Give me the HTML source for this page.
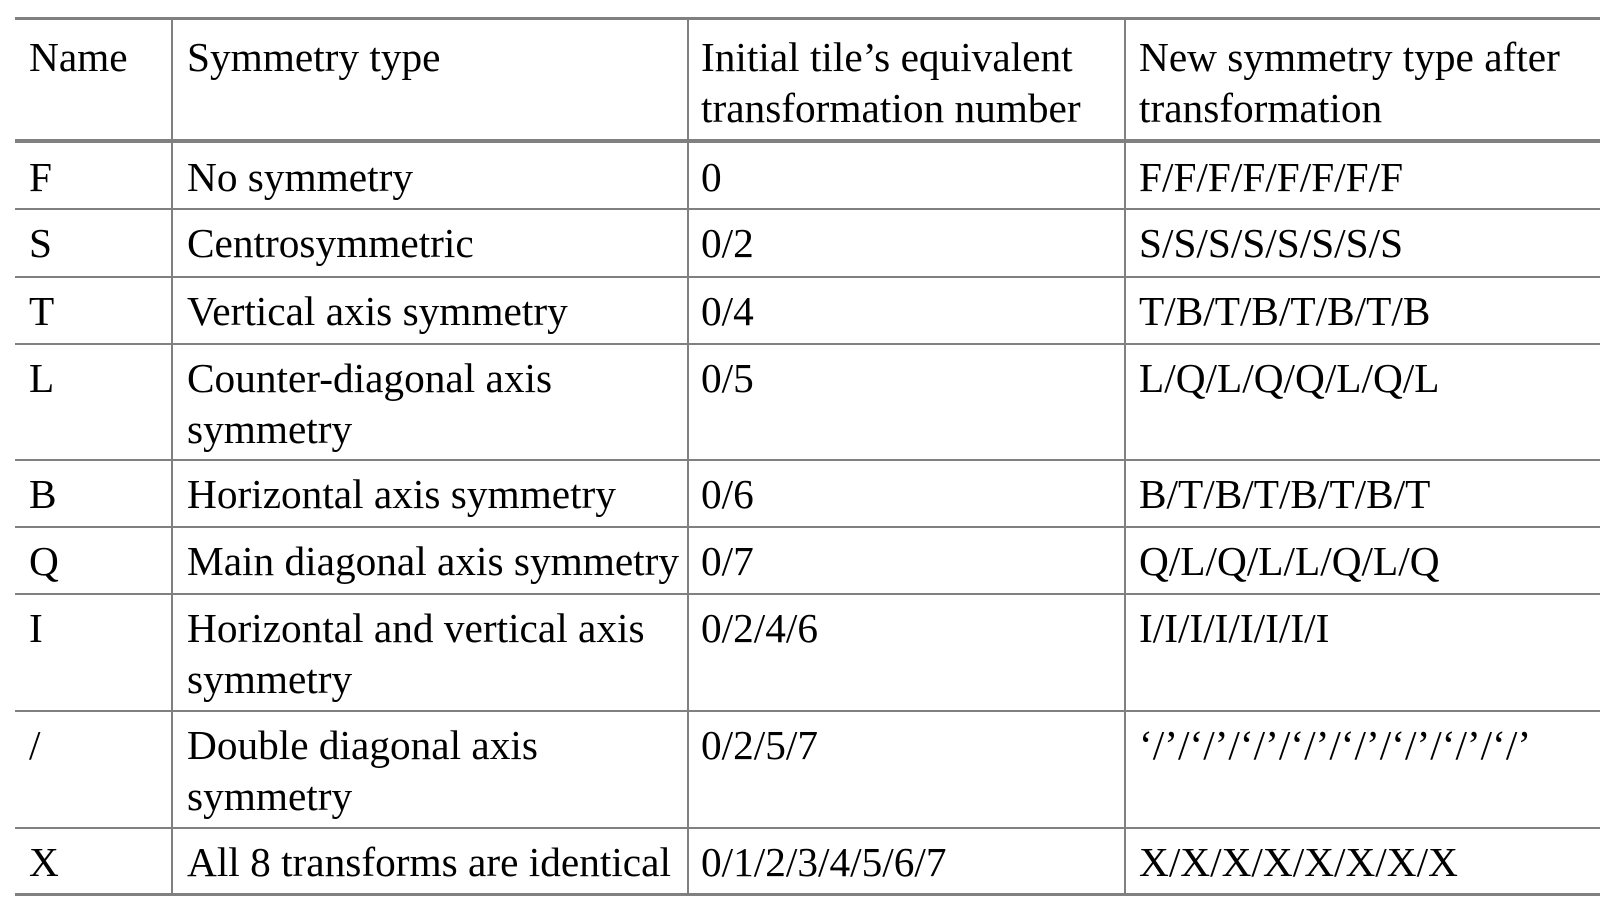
<!DOCTYPE html>
<html><head><meta charset="utf-8"><style>
html,body{margin:0;padding:0;background:#fff;}
body{width:1618px;height:908px;position:relative;overflow:hidden;font-family:"Liberation Serif",serif;font-size:41.3px;color:#000;}
.h{position:absolute;left:15px;width:1585px;background:#808080;}
.v{position:absolute;width:2px;background:#808080;}
.t{position:absolute;white-space:nowrap;line-height:50.5px;}
</style></head><body>
<div class="h" style="top:17px;height:3px"></div>
<div class="h" style="top:139px;height:4px"></div>
<div class="h" style="top:893px;height:3px"></div>
<div id="c"></div>
<script>
const rowsTop=[20,143,209,277,344,460,527,594,711,828];
const cols=[29,187,701,1139];
const header=["Name","Symmetry type","Initial tile’s equivalent<br>transformation number","New symmetry type after<br>transformation"];
const data=[
["F","No symmetry","0","F/F/F/F/F/F/F/F"],
["S","Centrosymmetric","0/2","S/S/S/S/S/S/S/S"],
["T","Vertical axis symmetry","0/4","T/B/T/B/T/B/T/B"],
["L","Counter-diagonal axis<br>symmetry","0/5","L/Q/L/Q/Q/L/Q/L"],
["B","Horizontal axis symmetry","0/6","B/T/B/T/B/T/B/T"],
["Q","Main diagonal axis symmetry","0/7","Q/L/Q/L/L/Q/L/Q"],
["I","Horizontal and vertical axis<br>symmetry","0/2/4/6","I/I/I/I/I/I/I/I"],
["/","Double diagonal axis<br>symmetry","0/2/5/7","‘/’/‘/’/‘/’/‘/’/‘/’/‘/’/‘/’/‘/’"],
["X","All 8 transforms are identical","0/1/2/3/4/5/6/7","X/X/X/X/X/X/X/X"]
];
const c=document.getElementById('c');
[171,687,1124].forEach((x,i)=>{
 const d=document.createElement('div');d.className='v';
 
 
 d.style.cssText=`left:${x}px;top:20px;height:873px`;c.appendChild(d);
});
for(let r=2;r<rowsTop.length;r++){
 const d=document.createElement('div');d.className='h';
 
 
 d.style.cssText=`top:${rowsTop[r]-1}px;height:2px`;c.appendChild(d);
}
function cell(txt,x,y,name){
 const d=document.createElement('div');d.className='t';
 
 
 d.innerHTML=txt;d.style.left=x+'px';d.style.top=y+'px';c.appendChild(d);
}
header.forEach((h,i)=>cell(h,cols[i],32,'header-cell'));
data.forEach((row,r)=>row.forEach((t,i)=>cell(t,cols[i],rowsTop[r+1]+9,'table-cell')));
</script>
</body></html>
